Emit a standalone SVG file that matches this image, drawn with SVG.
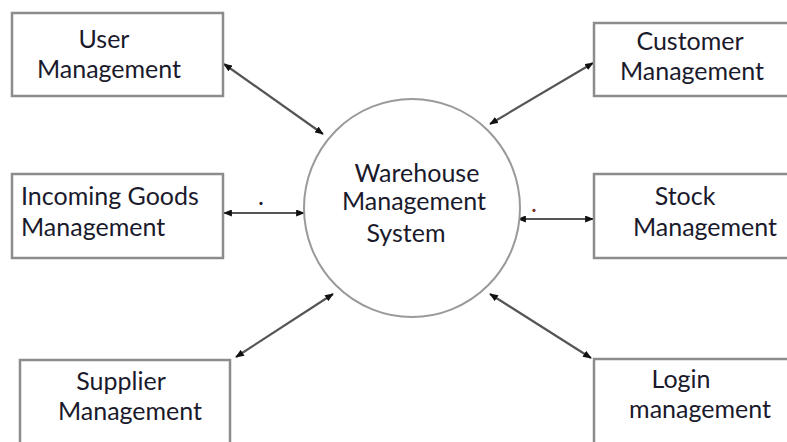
<svg xmlns="http://www.w3.org/2000/svg" width="787" height="442" viewBox="0 0 787 442">
  <style>
    .box { fill: #ffffff; stroke: #8c8c8c; stroke-width: 2.5; }
    .hub { fill: #ffffff; stroke: #9a9a9a; stroke-width: 2; }
    .lbl { font-family: Lato, "Noto Sans", sans-serif; font-size: 25px; fill: #1a1a2c; }
    .link { stroke: #555555; stroke-width: 2.2; fill: none; marker-start: url(#tip); marker-end: url(#tip); }
  </style>
  <defs>
    <marker id="tip" viewBox="0 0 10 8" refX="9" refY="4" markerWidth="9" markerHeight="7" markerUnits="userSpaceOnUse" orient="auto-start-reverse">
      <path d="M0,0 L10,4 L0,8 Z" fill="#111111"/>
    </marker>
  </defs>
  <rect width="787" height="442" fill="#ffffff"/>

  <g id="connectors">
    <line class="link" x1="224" y1="64" x2="323" y2="134"/>
    <line class="link" x1="593" y1="63" x2="490" y2="124"/>
    <line class="link" x1="224" y1="213" x2="304" y2="213"/>
    <line class="link" x1="518" y1="219" x2="593" y2="219"/>
    <line class="link" x1="236" y1="357" x2="333" y2="294"/>
    <line class="link" x1="591" y1="358" x2="490" y2="294"/>
  </g>

  <g id="warehouse-system">
    <ellipse class="hub" cx="412" cy="208" rx="108" ry="109"/>
    <text class="lbl" x="417" y="182" text-anchor="middle">Warehouse</text>
    <text class="lbl" x="414" y="210" text-anchor="middle">Management</text>
    <text class="lbl" x="406" y="242" text-anchor="middle">System</text>
  </g>

  <g id="user-management">
    <rect class="box" x="12" y="13" width="211" height="83"/>
    <text class="lbl" x="104" y="48" text-anchor="middle">User</text>
    <text class="lbl" x="109" y="78" text-anchor="middle">Management</text>
  </g>

  <g id="customer-management">
    <rect class="box" x="594" y="23" width="200" height="73"/>
    <text class="lbl" x="690" y="50" text-anchor="middle">Customer</text>
    <text class="lbl" x="692" y="80" text-anchor="middle">Management</text>
  </g>

  <g id="incoming-goods-management">
    <rect class="box" x="12" y="174" width="211" height="84"/>
    <text class="lbl" x="21" y="205">Incoming Goods</text>
    <text class="lbl" x="21" y="236">Management</text>
    <text class="lbl" x="258" y="205">.</text>
  </g>

  <g id="stock-management">
    <rect class="box" x="594" y="174" width="200" height="84"/>
    <text class="lbl" x="685" y="205" text-anchor="middle">Stock</text>
    <text class="lbl" x="705" y="236" text-anchor="middle">Management</text>
    <text class="lbl" x="531" y="212" style="fill:#7a3020">.</text>
  </g>

  <g id="supplier-management">
    <rect class="box" x="20" y="360" width="210" height="90"/>
    <text class="lbl" x="121" y="390" text-anchor="middle">Supplier</text>
    <text class="lbl" x="130" y="420" text-anchor="middle">Management</text>
  </g>

  <g id="login-management">
    <rect class="box" x="594" y="359" width="200" height="90"/>
    <text class="lbl" x="681" y="388" text-anchor="middle">Login</text>
    <text class="lbl" x="700" y="418" text-anchor="middle">management</text>
  </g>
</svg>
